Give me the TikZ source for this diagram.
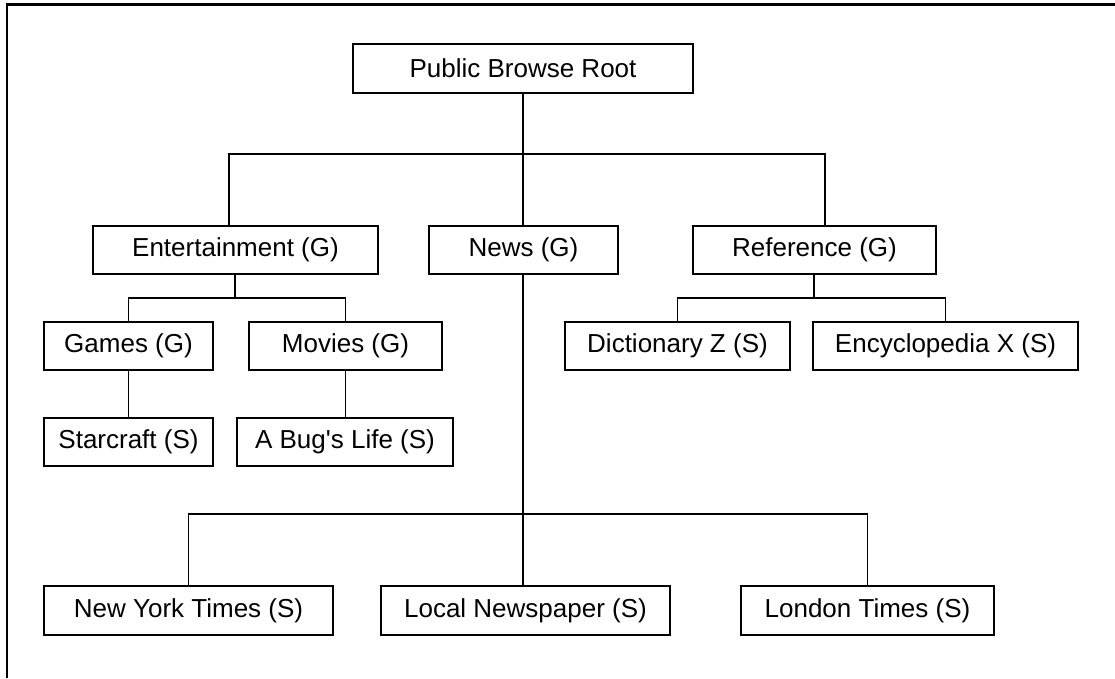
\documentclass[tikz,border=0pt]{standalone}
\usepackage{fontspec}
\setmainfont{Liberation Sans}
\newfontfamily\plainapos{Liberation Sans}[Ligatures=ResetAll]
\begin{document}
\begin{tikzpicture}[x=1pt,y=-1pt,
  box/.style={draw=black,line width=1.8pt,rectangle,inner sep=0pt,
    minimum height=48pt,font=\fontsize{26}{30}\selectfont,text=black},
  conn/.style={draw=black,line width=1.6pt},
  frame/.style={draw=black,line width=2.8pt}]
\useasboundingbox (0,0) rectangle (1115,678);
\draw[frame] (7,678) -- (7,4.5) -- (1115,4.5);

\node[box,minimum width=340pt,minimum height=49pt] (root) at (523,68.5) {Public Browse Root};
\node[box,minimum width=285pt] (ent) at (235.5,250) {Entertainment (G)};
\node[box,minimum width=189pt] (news) at (523.5,250) {News (G)};
\node[box,minimum width=243pt] (ref) at (814.5,250) {Reference (G)};
\node[box,minimum width=169pt] (games) at (128.5,346) {Games (G)};
\node[box,minimum width=193pt] (movies) at (345.5,346) {Movies (G)};
\node[box,minimum width=225pt] (dict) at (677.5,346) {Dictionary Z (S)};
\node[box,minimum width=265pt] (ency) at (945.5,346) {Encyclopedia X (S)};
\node[box,minimum width=169pt] (star) at (128.5,442) {Starcraft (S)};
\node[box,minimum width=216pt] (bug) at (345,442) {A Bug{\plainapos\char"0027}s Life (S)};
\node[box,minimum width=289pt,minimum height=49pt] (nyt) at (188.5,610.5) {New York Times (S)};
\node[box,minimum width=289pt,minimum height=49pt] (local) at (525.5,610.5) {Local Newspaper (S)};
\node[box,minimum width=253pt,minimum height=49pt] (london) at (867.5,610.5) {London Times (S)};

\coordinate (busA) at (523,154);
\coordinate (busB) at (235,298);
\coordinate (busC) at (814,298);
\coordinate (busD) at (523,514);

\draw[conn] (root.south) -- (busA);
\draw[conn] (busA) -| ([xshift=-6.5pt]ent.north);
\draw[conn] (busA) -| ([xshift=10.5pt]ref.north);
\draw[conn] (busA) -- (busA |- news.north);

\draw[conn] (busB |- ent.south) -- (busB);
\draw[conn] (busB) -| (games.north);
\draw[conn] (busB) -| (movies.north);
\draw[conn] (games.south) -- (star.north);
\draw[conn] (movies.south) -- (movies.south |- bug.north);

\draw[conn] (busC |- ref.south) -- (busC);
\draw[conn] (busC) -| (dict.north);
\draw[conn] (busC) -| (ency.north);

\draw[conn] (busD |- news.south) -- (busD);
\draw[conn] (busD) -| (nyt.north);
\draw[conn] (busD) -- (busD |- local.north);
\draw[conn] (busD) -| (london.north);
\end{tikzpicture}
\end{document}
